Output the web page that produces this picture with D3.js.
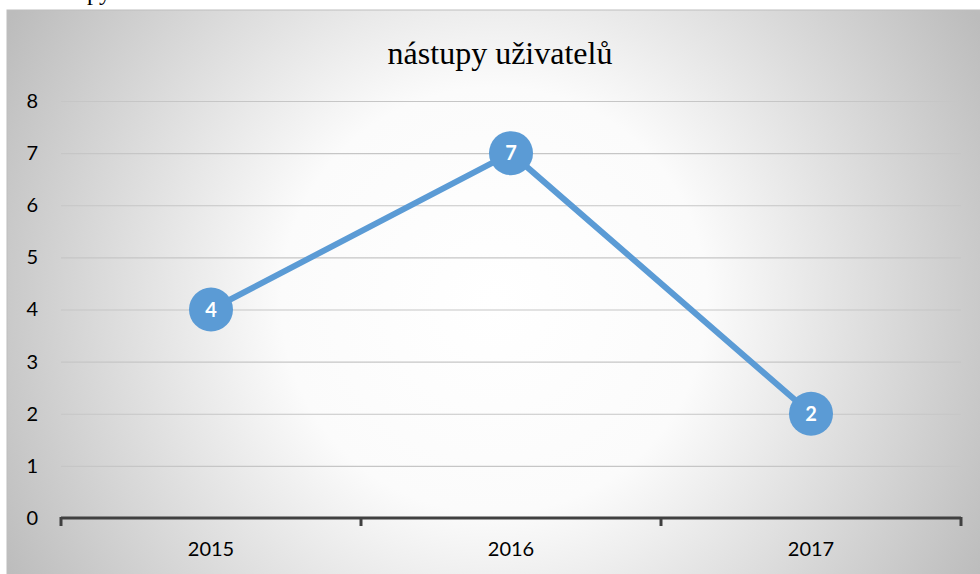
<!DOCTYPE html>
<html>
<head>
<meta charset="utf-8">
<script src="https://d3js.org/d3.v7.min.js"></script>
<style>
  html, body { margin: 0; padding: 0; background: #fff; }
  svg { display: block; }
</style>
</head>
<body>
<div id="chart"></div>
<script>
// data
const years = ["2015", "2016", "2017"];
const nastupy = [4, 7, 2];
const yTicks = [0, 1, 2, 3, 4, 5, 6, 7, 8];
const title = "nástupy uživatelů";

// size of plot
const width = 980;
const height = 574;
const box = {left: 7, top: 10};
const plot = {left: 61, right: 961, top: 101, bottom: 518};

const svg = d3.select("#chart")
    .append("svg")
    .attr("width", width)
    .attr("height", height);

// background gradient of the chart area
const defs = svg.append("defs");
const grad = defs.append("radialGradient")
    .attr("id", "bg")
    .attr("gradientUnits", "userSpaceOnUse")
    .attr("cx", 494).attr("cy", 300).attr("r", 560);
grad.append("stop").attr("offset", "0%").attr("stop-color", "#ffffff");
grad.append("stop").attr("offset", "38%").attr("stop-color", "#fbfbfb");
grad.append("stop").attr("offset", "100%").attr("stop-color", "#bcbcbc");

// heading above the chart, only the descenders are visible in the page
svg.append("text")
    .attr("x", 111).attr("y", -0.5)
    .attr("text-anchor", "end")
    .attr("font-family", "Liberation Serif, Times New Roman, serif")
    .attr("font-size", 24)
    .attr("fill", "#000")
    .text("nástupy");

svg.append("rect")
    .attr("x", box.left).attr("y", box.top)
    .attr("width", width - box.left + 2).attr("height", height - box.top + 2)
    .attr("fill", "url(#bg)")
    .attr("stroke", "#bdbdbd")
    .attr("stroke-width", 1);

// scales
const x = d3.scaleBand().domain(years).range([plot.left, plot.right]);
const y = d3.scaleLinear().domain([0, 8]).range([plot.bottom, plot.top]);

// title
svg.append("text")
    .attr("x", 500).attr("y", 64)
    .attr("text-anchor", "middle")
    .attr("font-family", "Liberation Serif, Times New Roman, serif")
    .attr("font-size", 32)
    .attr("fill", "#000")
    .text(title);

// gridlines
svg.append("g")
    .selectAll("line")
    .data(yTicks.filter(d => d > 0))
    .enter().append("line")
        .attr("x1", plot.left).attr("x2", plot.right)
        .attr("y1", d => y(d) + 0.5).attr("y2", d => y(d) + 0.5)
        .attr("stroke", "#c6c6c6")
        .attr("stroke-width", 1.2);

// y axis labels
const yAxis = svg.append("g")
    .attr("transform", `translate(${plot.left - 23},0)`)
    .call(d3.axisLeft(y).tickValues(yTicks).tickSize(0).tickPadding(0));
yAxis.select(".domain").remove();
yAxis.selectAll("text")
    .attr("font-family", "Lato, Carlito, Calibri, sans-serif")
    .attr("font-size", 20)
    .attr("fill", "#000");

// x axis
const xAxis = svg.append("g")
    .attr("transform", `translate(0,${plot.bottom})`)
    .call(d3.axisBottom(x).tickSize(0).tickPadding(24));
xAxis.select(".domain")
    .attr("stroke", "#404040")
    .attr("stroke-width", 3)
    .attr("d", `M${plot.left},0H${plot.right}`);
xAxis.selectAll("text")
    .attr("font-family", "Lato, Carlito, Calibri, sans-serif")
    .attr("font-size", 20)
    .attr("fill", "#000");
// category boundary ticks
const bounds = years.map(d => x(d)).concat([x(years[years.length - 1]) + x.bandwidth()]);
xAxis.selectAll(".bound")
    .data(bounds)
    .enter().append("line")
        .attr("class", "bound")
        .attr("x1", d => d).attr("x2", d => d)
        .attr("y1", -1).attr("y2", 8)
        .attr("stroke", "#404040")
        .attr("stroke-width", 3);

// line
const cx = d => x(d) + x.bandwidth() / 2;
const line = d3.line()
    .x((d, i) => cx(years[i]))
    .y(d => y(d));
svg.append("path")
    .datum(nastupy)
    .attr("d", line)
    .attr("fill", "none")
    .attr("stroke", "#5b9bd5")
    .attr("stroke-width", 6)
    .attr("stroke-linejoin", "round");

// markers with labels
const pts = svg.append("g")
    .selectAll("g")
    .data(nastupy)
    .enter().append("g")
        .attr("transform", (d, i) => `translate(${cx(years[i])},${y(d)})`);
pts.append("circle")
    .attr("r", 22)
    .attr("fill", "#5b9bd5");
pts.append("text")
    .attr("text-anchor", "middle")
    .attr("dy", "0.36em")
    .attr("font-family", "Lato, Carlito, Calibri, sans-serif")
    .attr("font-weight", "bold")
    .attr("font-size", 20)
    .attr("fill", "#fff")
    .text(d => d);
</script>
</body>
</html>
